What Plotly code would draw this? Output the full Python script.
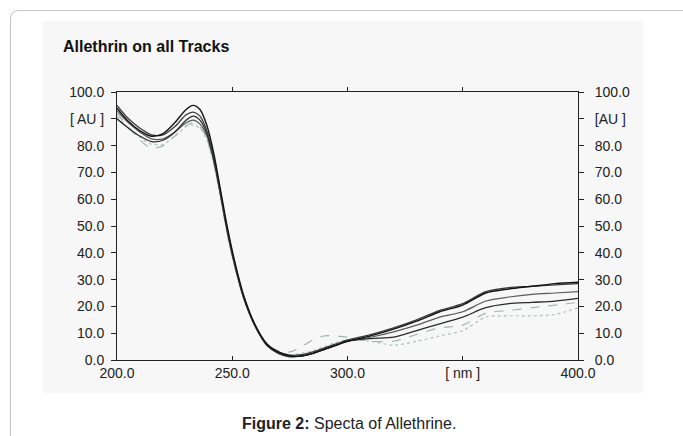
import plotly.graph_objects as go

# wavelength grid (nm)
wavelength = [200, 205, 210, 215, 220, 225, 230, 233, 236, 239, 242, 245, 248, 251, 255, 260,
              265, 270, 275, 280, 285, 290, 295, 300, 310, 320, 330, 340, 350, 360, 370, 380, 390, 400]

track_a = [94, 89, 85.5, 83.5, 84.5, 88.5, 93.5, 95, 93.5, 87.5, 77, 63, 49, 37, 24, 13,
           6, 3, 1.5, 1.5, 2.5, 4, 5.5, 7, 9, 11.5, 14.5, 18, 20.5, 25, 26.5, 27.5, 28.5, 29]
track_b = [90, 86.5, 83.5, 81.5, 82, 85, 89.5, 91, 89.5, 84.5, 75, 61.5, 47.5, 36, 23, 12.5,
           5.5, 2.5, 1.2, 1.5, 2.5, 4, 5.5, 7, 8, 8.5, 11, 13.5, 16, 19.5, 21, 21.5, 22, 23]
track_c = [95, 90, 86.5, 84, 84, 87, 91.5, 92.5, 91, 85.5, 75.5, 62, 48, 36.5, 23.5, 12.5,
           6, 3, 1.8, 2, 3, 4.5, 6, 7.5, 9.5, 12, 15, 18.5, 21, 25.5, 27, 27.5, 28, 28.5]
track_d = [93, 88.5, 85, 82.5, 82.5, 85, 88.5, 89.5, 88, 83.5, 74, 61, 47, 35.5, 23, 12.5,
           5.5, 2.5, 1.3, 1.5, 2.5, 4, 5.5, 7, 8.5, 10.5, 13, 16, 18, 22, 23.5, 24.5, 25, 25.5]
track_e = [92, 87, 82, 79, 80, 83.5, 87.5, 88.5, 87, 82.5, 73.5, 60.5, 46.5, 35, 23, 12.5,
           6, 3.5, 3, 5, 7.5, 9, 9, 8.5, 7, 7, 9.5, 12, 13, 17.5, 18.5, 19.5, 20.5, 21.5]
track_f = [91, 86.5, 83, 80.5, 80.5, 83.5, 87, 87.7, 86.5, 82, 73, 60, 46.5, 35, 23, 12.5,
           6, 3, 2, 2.5, 3.5, 5, 6.5, 7.5, 7, 5.5, 7, 9, 11, 16, 16.5, 16.5, 17, 19.5]

tracks = [track_e, track_f, track_d, track_b, track_c, track_a]
colors = ["#9fb6b4", "#adc2c0", "#5a5a5a", "#2b2b2b", "#3c3c3c", "#141414"]
dashes = ["dash", "dot", "solid", "solid", "solid", "solid"]
widths = [1.2, 1.2, 1.2, 1.3, 1.3, 1.4]

y_ticks = [0, 10, 20, 30, 40, 50, 60, 70, 80, 90, 100]
y_left_text = ["0.0", "10.0", "20.0", "30.0", "40.0", "50.0", "60.0", "70.0", "80.0", "[ AU ]", "100.0"]
y_right_text = ["0.0", "10.0", "20.0", "30.0", "40.0", "50.0", "60.0", "70.0", "80.0", "[AU ]", "100.0"]
x_ticks = [200, 250, 300, 350, 400]
x_text = ["200.0", "250.0", "300.0", "[ nm ]", "400.0"]

FONT = "Liberation Sans, Arial, sans-serif"
W, H = 683, 436
L, R, T, B = 117, 578, 92, 360


def px(x):
    return (x - L) / (R - L)


def py(y):
    return (B - y) / (B - T)


fig = go.Figure()
for vals, c, d, w in zip(tracks, colors, dashes, widths):
    fig.add_trace(go.Scatter(x=wavelength, y=vals, mode="lines",
                             line=dict(color=c, width=w, dash=d, shape="spline", smoothing=0.8),
                             hoverinfo="skip", showlegend=False))
# helper trace so the mirrored axes are drawn
fig.add_trace(go.Scatter(x=[wavelength[0]], y=[track_a[0]], xaxis="x2", yaxis="y2",
                         mode="markers", marker=dict(opacity=0), hoverinfo="skip", showlegend=False))

axis_common = dict(showgrid=False, zeroline=False, showline=True, linecolor="#222",
                   linewidth=1, tickcolor="#222", ticklen=5,
                   tickfont=dict(family=FONT, size=14, color="#222"))

fig.update_layout(
    width=W, height=H,
    margin=dict(l=L, r=W - R, t=T, b=H - B),
    paper_bgcolor="white", plot_bgcolor="#f7f7f7",
    xaxis=dict(range=[200, 400], tickmode="array", tickvals=x_ticks, ticktext=x_text,
               ticks="inside", ticklen=4, **{k: v for k, v in axis_common.items() if k != "ticklen"}),
    xaxis2=dict(range=[200, 400], overlaying="x", side="top", tickmode="array",
                tickvals=[250, 300, 350], showticklabels=False, ticks="outside", ticklen=4,
                **{k: v for k, v in axis_common.items() if k not in ("ticklen", "tickfont")}),
    yaxis=dict(range=[0, 100], tickmode="array", tickvals=y_ticks, ticktext=y_left_text,
               ticks="outside", ticklabelstandoff=4, **axis_common),
    yaxis2=dict(range=[0, 100], overlaying="y", side="right", tickmode="array",
                tickvals=y_ticks, ticktext=y_right_text, ticks="outside",
                ticklabelstandoff=8, **axis_common),
    shapes=[
        dict(type="rect", xref="paper", yref="paper", x0=px(43), x1=px(643), y0=py(393), y1=py(21),
             fillcolor="#f7f7f7", line=dict(width=0), layer="below"),
        dict(type="path", xref="paper", yref="paper",
             path=f"M {px(10.5)},{py(460)} L {px(10.5)},{py(19)} Q {px(10.5)},{py(10.5)} {px(19)},{py(10.5)} L {px(720)},{py(10.5)}",
             line=dict(color="#c4c4c4", width=1), layer="below"),
    ],
    annotations=[
        dict(text="<b>Allethrin on all Tracks</b>", xref="paper", yref="paper",
             x=px(61), y=py(47), xanchor="left", yanchor="middle", showarrow=False,
             font=dict(family=FONT, size=16, color="#111")),
        dict(text="<b>Figure 2:</b> Specta of Allethrine.", xref="paper", yref="paper",
             x=px(349), y=py(423), xanchor="center", yanchor="middle", showarrow=False,
             font=dict(family=FONT, size=16, color="#222")),
    ],
)

fig.write_html("out.html")
